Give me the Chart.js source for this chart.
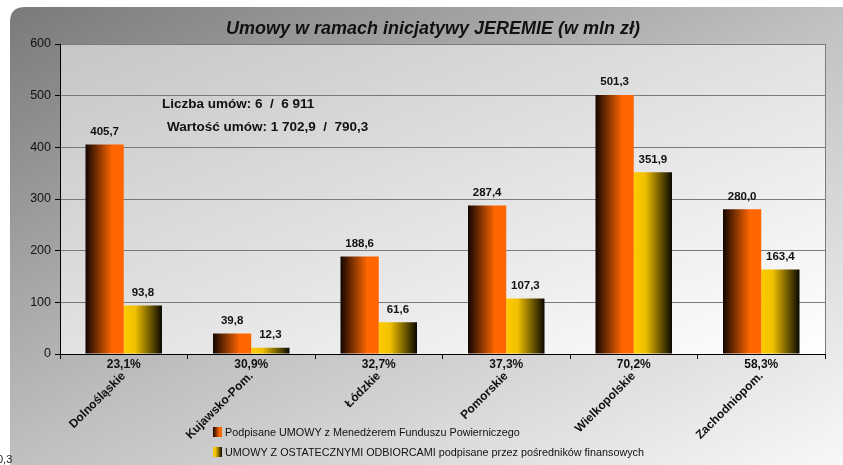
<!DOCTYPE html>
<html><head>
<meta charset="UTF-8">
<title>Umowy w ramach inicjatywy JEREMIE</title>
<style>
  html, body { margin: 0; padding: 0; background: #fff; }
  #wrap { width: 843px; height: 465px; }
</style>
<script src="https://cdn.jsdelivr.net/npm/chart.js@4/dist/chart.umd.min.js"></script>
</head>
<body>
<div id="wrap"><canvas id="chart" width="843" height="465"></canvas></div>
<script>
// data
const regions = ['Dolnośląskie', 'Kujawsko-Pom.', 'Łódzkie', 'Pomorskie', 'Wielkopolskie', 'Zachodniopom.'];
const fundManagerValues = [405.7, 39.8, 188.6, 287.4, 501.3, 280.0];
const finalRecipientValues = [93.8, 12.3, 61.6, 107.3, 351.9, 163.4];
const shareLabels = ['23,1%', '30,9%', '32,7%', '37,3%', '70,2%', '58,3%'];
const yTicks = [0, 100, 200, 300, 400, 500, 600];
const seriesNames = [
  'Podpisane UMOWY z Menedżerem Funduszu Powierniczego',
  'UMOWY Z OSTATECZNYMI ODBIORCAMI podpisane przez pośredników finansowych'
];
const titleText = 'Umowy w ramach inicjatywy JEREMIE (w mln zł)';
const summaryLines = ['Liczba umów: 6  /  6 911', 'Wartość umów: 1 702,9  /  790,3'];

const FONT = '"Liberation Sans", Arial, sans-serif';
const CAT_PCT = 0.6;

function fmt(v) {
  return v.toFixed(1).replace('.', ',');
}

// horizontal gradient: orange bars dark on the left, yellow bars dark on the right
function stops(g, which) {
  if (which === 0) {
    g.addColorStop(0, '#120500');
    g.addColorStop(0.7, '#ff6600');
    g.addColorStop(1, '#ff6600');
  } else {
    g.addColorStop(0, '#ffcc00');
    g.addColorStop(0.3, '#f0c000');
    g.addColorStop(1, '#0a0800');
  }
  return g;
}

function barFill(which) {
  return function (ctx) {
    const chart = ctx.chart;
    const xs = chart.scales.x;
    const flat = which ? '#ffcc00' : '#ff6600';
    if (!xs || ctx.dataIndex === undefined) return flat;
    const c = xs.getPixelForValue(ctx.dataIndex);
    const half = xs.width / regions.length * CAT_PCT / 2;
    if (!isFinite(c) || !isFinite(half) || half <= 0) return flat;
    const x0 = which ? c : c - half;
    const x1 = which ? c + half : c;
    return stops(chart.ctx.createLinearGradient(x0, 0, x1, 0), which);
  };
}

// gradient running corner to corner, with equal shade on the other two corners
function diagGradient(ctx, x, y, w, h) {
  const n = Math.hypot(w, h);
  const len = 2 * w * h / n;
  return ctx.createLinearGradient(x, y, x + h / n * len, y + w / n * len);
}

const decor = {
  id: 'decor',
  beforeDraw(chart) {
    const ctx = chart.ctx, a = chart.chartArea;
    ctx.save();
    ctx.fillStyle = '#fff';
    ctx.fillRect(0, 0, chart.width, chart.height);
    // outer panel
    const g = diagGradient(ctx, 10, 7, 833, 458);
    g.addColorStop(0, '#7a7a7a');
    g.addColorStop(0.5, '#c0c0c0');
    g.addColorStop(1, '#f8f8f8');
    ctx.fillStyle = g;
    ctx.beginPath();
    ctx.moveTo(25, 7);
    ctx.lineTo(843, 7);
    ctx.lineTo(843, 470);
    ctx.lineTo(10, 470);
    ctx.lineTo(10, 22);
    ctx.quadraticCurveTo(10, 7, 25, 7);
    ctx.fill();
    // plot area
    const p = diagGradient(ctx, a.left, a.top, a.right - a.left, a.bottom - a.top);
    p.addColorStop(0, '#c6c6c6');
    p.addColorStop(0.5, '#e2e2e2');
    p.addColorStop(1, '#ffffff');
    ctx.fillStyle = p;
    ctx.fillRect(a.left, a.top, a.right - a.left, a.bottom - a.top);
    ctx.restore();
  },
  beforeDatasetsDraw(chart) {
    const ctx = chart.ctx, a = chart.chartArea;
    ctx.save();
    ctx.strokeStyle = '#7a7a7a';
    ctx.lineWidth = 1;
    ctx.beginPath();
    ctx.moveTo(a.right + 0.5, a.top);
    ctx.lineTo(a.right + 0.5, a.bottom);
    ctx.stroke();
    ctx.restore();
  },
  afterDatasetsDraw(chart) {
    const ctx = chart.ctx;
    ctx.save();
    ctx.fillStyle = '#111';
    ctx.font = 'bold 11.5px ' + FONT;
    ctx.textAlign = 'center';
    ctx.textBaseline = 'bottom';
    chart.data.datasets.forEach((ds, i) => {
      chart.getDatasetMeta(i).data.forEach((el, j) => {
        ctx.fillText(fmt(ds.data[j]), el.x, el.y - 7);
      });
    });
    ctx.restore();
  },
  afterDraw(chart) {
    const ctx = chart.ctx, xs = chart.scales.x;
    ctx.save();
    ctx.fillStyle = '#111';
    // title
    ctx.font = 'italic bold 18px ' + FONT;
    ctx.textAlign = 'center';
    ctx.textBaseline = 'middle';
    ctx.fillText(titleText, 433, 29);
    // shares under the axis
    ctx.font = 'bold 12px ' + FONT;
    shareLabels.forEach((t, i) => ctx.fillText(t, xs.getPixelForValue(i), 365));
    // summary
    ctx.textAlign = 'left';
    ctx.font = 'bold 13.5px ' + FONT;
    ctx.fillText(summaryLines[0], 162, 104);
    ctx.fillText(summaryLines[1], 167, 127);
    // legend
    ctx.font = '10.8px ' + FONT;
    seriesNames.forEach((name, i) => {
      const y = 432 + i * 20;
      ctx.fillStyle = stops(ctx.createLinearGradient(213, 0, 222, 0), i);
      ctx.fillRect(213, y - 5, 9, 10);
      ctx.fillStyle = '#111';
      ctx.fillText(name, 225, y + 1);
    });
    // clipped leftover text in the corner
    ctx.fillStyle = '#222';
    ctx.font = '11px ' + FONT;
    ctx.fillText('0,3', -3, 460);
    ctx.restore();
  }
};

new Chart(document.getElementById('chart'), {
  type: 'bar',
  data: {
    labels: regions,
    datasets: [
      { label: seriesNames[0], data: fundManagerValues, backgroundColor: barFill(0),
        categoryPercentage: CAT_PCT, barPercentage: 1 },
      { label: seriesNames[1], data: finalRecipientValues, backgroundColor: barFill(1),
        categoryPercentage: CAT_PCT, barPercentage: 1 }
    ]
  },
  options: {
    responsive: false,
    animation: false,
    devicePixelRatio: 1,
    layout: { padding: { left: 10, right: 18, top: 44, bottom: 0 } },
    plugins: { legend: { display: false }, title: { display: false }, tooltip: { enabled: false } },
    scales: {
      x: {
        afterFit(s) { s.height = 111; },
        grid: { drawOnChartArea: false, tickLength: 5, tickColor: '#000', offset: true },
        border: { color: '#000' },
        ticks: {
          color: '#111',
          font: { family: FONT, size: 12, weight: 'bold' },
          minRotation: 45, maxRotation: 45,
          padding: 10, labelOffset: 0, autoSkip: false
        }
      },
      y: {
        min: yTicks[0], max: yTicks[yTicks.length - 1],
        afterFit(s) { s.width = 50; },
        afterBuildTicks(s) { s.ticks = yTicks.map(v => ({ value: v })); },
        grid: { color: '#7a7a7a', tickLength: 5, tickColor: '#000' },
        border: { color: '#000' },
        ticks: { color: '#111', font: { family: FONT, size: 12.5 }, padding: 4 }
      }
    }
  },
  plugins: [decor]
});
</script>
</body></html>
